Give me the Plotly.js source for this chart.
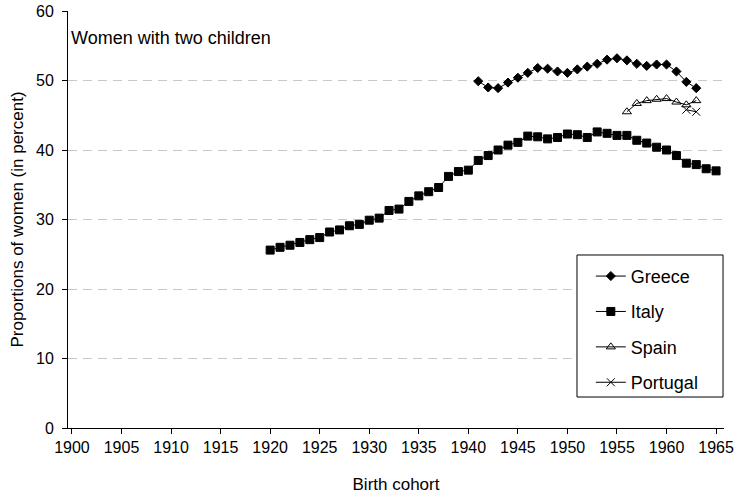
<!DOCTYPE html>
<html>
<head>
<meta charset="utf-8">
<script src="https://cdn.plot.ly/plotly-3.0.1.min.js"></script>
<style>html,body{margin:0;padding:0;background:#fff;}#chart{width:739px;height:498px;}</style>
</head>
<body>
<div id="chart"></div>
<script>
// Birth cohorts
const greeceYears = [1941,1942,1943,1944,1945,1946,1947,1948,1949,1950,1951,1952,1953,1954,1955,1956,1957,1958,1959,1960,1961,1962,1963];
const greeceValues = [49.9,49.0,48.9,49.7,50.4,51.1,51.8,51.7,51.3,51.1,51.6,52.0,52.4,53.0,53.2,52.9,52.4,52.1,52.3,52.3,51.3,49.8,48.9];

const italyYears = [1920,1921,1922,1923,1924,1925,1926,1927,1928,1929,1930,1931,1932,1933,1934,1935,1936,1937,1938,1939,1940,1941,1942,1943,1944,1945,1946,1947,1948,1949,1950,1951,1952,1953,1954,1955,1956,1957,1958,1959,1960,1961,1962,1963,1964,1965];
const italyValues = [25.6,26.0,26.3,26.7,27.1,27.4,28.2,28.5,29.1,29.3,29.9,30.2,31.3,31.5,32.6,33.4,34.0,34.6,36.2,36.9,37.1,38.5,39.2,40.0,40.7,41.1,42.0,41.9,41.6,41.8,42.3,42.2,41.8,42.6,42.4,42.1,42.1,41.4,41.0,40.4,40.0,39.2,38.1,37.9,37.3,37.0];

const spainYears = [1956,1957,1958,1959,1960,1961,1962,1963];
const spainValues = [45.5,46.7,47.1,47.3,47.4,46.9,46.5,47.1];

const portugalYears = [1962,1963];
const portugalValues = [45.8,45.5];

const xTickVals = [1900,1905,1910,1915,1920,1925,1930,1935,1940,1945,1950,1955,1960,1965];
const yTickVals = [0,10,20,30,40,50,60];

const FONT = 'Liberation Sans, Arial, sans-serif';

function series(name, xs, ys, symbol, size, group) {
  return {
    type: 'scatter', mode: 'lines+markers', name: name,
    x: xs, y: ys, legendgroup: group,
    line: {color: '#000', width: 1},
    marker: {symbol: symbol, size: size, color: '#000', line: {color: '#000', width: 1}}
  };
}

const traces = [
  series('Greece', greeceYears, greeceValues, 'diamond', 7, 'g1'),
  series('Italy', italyYears, italyValues, 'square', 8, 'g2'),
  series('Spain', spainYears, spainValues, 'triangle-up-open', 8, 'g3'),
  series('Portugal', portugalYears, portugalValues, 'x-thin-open', 8, 'g4')
];

const layout = {
  width: 739, height: 498,
  margin: {l: 68, r: 15, t: 11, b: 70},
  paper_bgcolor: '#fff', plot_bgcolor: '#fff',
  font: {family: FONT, size: 16, color: '#000'},
  showlegend: true,
  legend: {
    x: 0.797, y: 0.408, xanchor: 'left', yanchor: 'top',
    borderwidth: 0, bgcolor: 'rgba(0,0,0,0)',
    font: {family: FONT, size: 18, color: '#000'},
    traceorder: 'grouped', tracegroupgap: 9, itemwidth: 30
  },
  shapes: [{
    type: 'rect', xref: 'paper', yref: 'paper', layer: 'above',
    x0: 0.7759, x1: 0.9985, y0: 0.0743, y1: 0.4149,
    line: {color: '#000', width: 1}, fillcolor: '#fff'
  }],
  xaxis: {
    range: [1899.6, 1965.8], tickmode: 'array', tickvals: xTickVals,
    ticks: 'outside', ticklen: 5, tickcolor: '#000', showline: true, linecolor: '#000', linewidth: 1,
    showgrid: false, zeroline: false,
    tickfont: {family: FONT, size: 16},
    title: {text: 'Birth cohort', font: {family: FONT, size: 17}, standoff: 22}
  },
  yaxis: {
    range: [0, 60], tickmode: 'array', tickvals: yTickVals,
    ticks: 'outside', ticklen: 5, tickcolor: '#000', showline: true, linecolor: '#000', linewidth: 1,
    showgrid: true, gridcolor: '#c8c8c8', griddash: '9px,6px', gridwidth: 1, zeroline: false,
    tickfont: {family: FONT, size: 16}, ticklabelstandoff: 5,
    title: {text: 'Proportions of women (in percent)', font: {family: FONT, size: 17}, standoff: 8}
  },
  annotations: [{
    xref: 'paper', yref: 'paper', x: 0.002, y: 0.935, xanchor: 'left', yanchor: 'middle',
    text: 'Women with two children', showarrow: false,
    font: {family: FONT, size: 18, color: '#000'}
  }]
};

Plotly.newPlot('chart', traces, layout, {displayModeBar: false, staticPlot: true});
</script>
</body>
</html>
